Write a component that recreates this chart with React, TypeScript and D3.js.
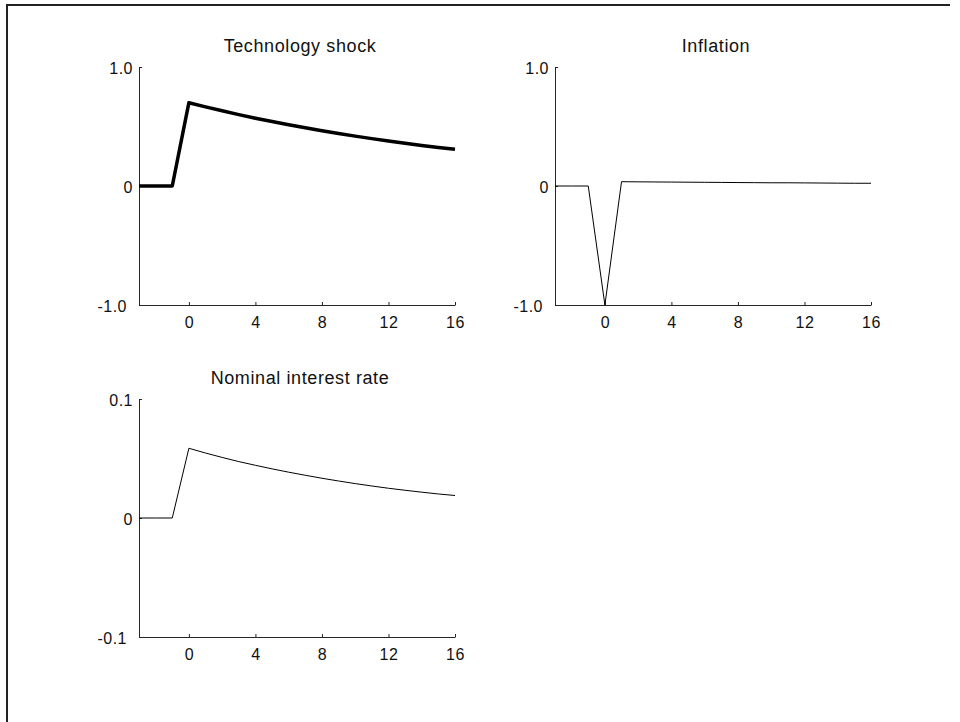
import React, { useEffect, useRef } from 'react';
import * as d3 from 'd3';

// quarters after the shock
const periods = [-3, -2, -1, 0, 1, 2, 3, 4, 5, 6, 7, 8, 9, 10, 11, 12, 13, 14, 15, 16];
const xTicks = [0, 4, 8, 12, 16];

const techShock = [0, 0, 0, 0.70, 0.665, 0.632, 0.600, 0.570, 0.542, 0.515, 0.489, 0.464, 0.441, 0.419, 0.398, 0.378, 0.359, 0.341, 0.324, 0.308];
const inflation = [0, 0, 0, -1.0, 0.036, 0.035, 0.034, 0.033, 0.032, 0.031, 0.030, 0.029, 0.028, 0.027, 0.027, 0.026, 0.025, 0.024, 0.023, 0.023];
const interestRate = [0, 0, 0, 0.0586, 0.0546, 0.0509, 0.0474, 0.0443, 0.0413, 0.0385, 0.0359, 0.0334, 0.0311, 0.0289, 0.0269, 0.0250, 0.0233, 0.0217, 0.0202, 0.0189];

const panels = [
    { title: "Technology shock", values: techShock, yTicks: [-1, 0, 1], yLabels: ["-1.0", "0", "1.0"], x: 139, y: 67, width: 3.5 },
    { title: "Inflation", values: inflation, yTicks: [-1, 0, 1], yLabels: ["-1.0", "0", "1.0"], x: 555, y: 67, width: 1 },
    { title: "Nominal interest rate", values: interestRate, yTicks: [-0.1, 0, 0.1], yLabels: ["-0.1", "0", "0.1"], x: 139, y: 399, width: 1 },
];

const W = 316;
const H = 238;
const axisColor = "#262626";
const font = "'Liberation Sans', Arial, sans-serif";

function App() {
    const ref = useRef<SVGSVGElement>(null);

    useEffect(() => {
        const svg = d3.select(ref.current);
        svg.selectAll("*").remove();

        // outer frame (top and left edges only)
        svg.append("path")
            .attr("d", "M7,722V5H950")
            .attr("fill", "none")
            .attr("stroke", "#222")
            .attr("stroke-width", 2);

        panels.forEach(p => {
            const lo = p.yTicks[0], hi = p.yTicks[p.yTicks.length - 1];
            const xScale = d3.scaleLinear().domain([-3, 16]).range([0, W]);
            const yScale = d3.scaleLinear().domain([lo, hi]).range([H, 0]);

            const g = svg.append("g").attr("transform", `translate(${p.x},${p.y})`);

            const xAxis = g.append("g")
                .attr("transform", `translate(0,${H})`)
                .call(d3.axisBottom(xScale).tickValues(xTicks).tickSizeInner(-3).tickSizeOuter(0).tickPadding(12));

            const yAxis = g.append("g")
                .call(d3.axisLeft(yScale).tickValues(p.yTicks).tickSizeInner(-3).tickSizeOuter(0).tickPadding(6)
                    .tickFormat((d, i) => p.yLabels[i]));

            [xAxis, yAxis].forEach(a => {
                a.select(".domain").attr("stroke", axisColor);
                a.selectAll(".tick line").attr("stroke", axisColor);
                a.selectAll("text")
                    .attr("fill", "#111")
                    .style("font-family", font)
                    .style("font-size", "16px")
                    .style("letter-spacing", "0.5px");
            });
            yAxis.selectAll("text")
                .attr("dx", (d: any) => (d < 0 ? -6 : 0))
                .attr("dy", "0.42em");

            const line = d3.line<number>()
                .x((d, i) => xScale(periods[i]))
                .y(d => yScale(d));

            g.append("path")
                .attr("fill", "none")
                .attr("stroke", "#000")
                .attr("stroke-width", p.width)
                .attr("stroke-linejoin", "round")
                .attr("d", line(p.values));

            g.append("text")
                .attr("x", W / 2 + 3)
                .attr("y", -15)
                .attr("text-anchor", "middle")
                .attr("fill", "#111")
                .style("font-family", font)
                .style("font-size", "18px")
                .style("letter-spacing", "0.6px")
                .text(p.title);
        });
    }, []);

    return (
        <svg
            ref={ref}
            width={960}
            height={722}
            style={{ position: "absolute", left: 0, top: 0, background: "#fff" }}
        ></svg>
    );
}

export default App;
